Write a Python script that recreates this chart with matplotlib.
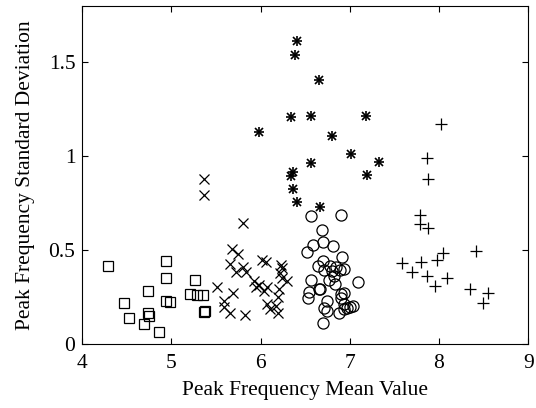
import matplotlib
matplotlib.use("Agg")
import matplotlib.pyplot as plt

plt.rcParams['font.family'] = ['Liberation Serif', 'DejaVu Serif']

# Squares
sq_x = [4.29, 4.47, 4.52, 4.69, 4.74, 4.74, 4.75, 4.86, 4.94, 4.94, 4.94, 4.98,
        5.26, 5.21, 5.29, 5.35, 5.36, 5.38]
sq_y = [0.417, 0.220, 0.137, 0.105, 0.282, 0.163, 0.149, 0.066, 0.442, 0.353, 0.226, 0.222,
        0.341, 0.266, 0.258, 0.258, 0.169, 0.176]

# Crosses (x)
cx_x = [5.37, 5.37, 5.80, 5.51, 5.68, 5.75, 5.66, 5.80, 5.72, 5.84, 5.69, 5.59, 5.59,
        5.66, 5.82, 5.92, 5.95, 5.98, 6.04, 6.07, 6.01, 6.06, 6.07, 6.10, 6.17, 6.19,
        6.20, 6.21, 6.23, 6.24, 6.22, 6.24, 6.30]
cx_y = [0.877, 0.794, 0.643, 0.305, 0.505, 0.479, 0.425, 0.412, 0.384, 0.384, 0.270, 0.231,
        0.196, 0.167, 0.153, 0.336, 0.302, 0.313, 0.284, 0.302, 0.447, 0.437, 0.211, 0.188,
        0.202, 0.167, 0.252, 0.291, 0.419, 0.405, 0.376, 0.350, 0.336]

# Asterisks
st_x = [6.41, 6.39, 6.65, 6.34, 6.56, 7.18, 5.98, 6.80, 7.01, 7.33, 6.56, 6.36, 6.34,
        6.36, 6.41, 6.67, 7.19]
st_y = [1.611, 1.540, 1.407, 1.208, 1.215, 1.211, 1.126, 1.108, 1.010, 0.966, 0.963,
        0.915, 0.892, 0.824, 0.758, 0.728, 0.900]

# Circles
ci_x = [6.56, 6.90, 6.69, 6.52, 6.59, 6.70, 6.81, 6.91, 6.64, 6.70, 6.78, 6.84, 6.80,
        6.89, 6.94, 6.71, 6.82, 6.77, 6.83, 6.56, 7.09, 6.65, 6.54, 6.66, 6.53, 6.90,
        6.93, 6.90, 6.74, 6.93, 6.71, 6.74, 6.88, 6.97, 7.00, 7.03, 6.94, 6.70]
ci_y = [0.682, 0.687, 0.607, 0.488, 0.524, 0.542, 0.522, 0.462, 0.417, 0.444, 0.417,
        0.408, 0.389, 0.394, 0.398, 0.391, 0.359, 0.341, 0.320, 0.341, 0.332, 0.291,
        0.279, 0.291, 0.243, 0.265, 0.270, 0.247, 0.226, 0.213, 0.190, 0.176, 0.163,
        0.190, 0.199, 0.202, 0.185, 0.114]

# Plus signs
pl_x = [8.02, 7.86, 7.88, 7.79, 7.79, 7.88, 7.59, 7.70, 7.80, 7.86, 7.95, 7.98, 8.05,
        8.09, 8.41, 8.35, 8.55, 8.49]
pl_y = [1.170, 0.989, 0.879, 0.684, 0.638, 0.616, 0.430, 0.385, 0.435, 0.364, 0.311,
        0.448, 0.483, 0.350, 0.495, 0.293, 0.273, 0.217]

x_ticks = [4, 5, 6, 7, 8, 9]
y_ticks = [0, 0.5, 1, 1.5]
y_tick_labels = ['0', '0.5', '1', '1.5']

fig = plt.figure(figsize=(5.36, 4.08), dpi=100)
ax = fig.add_axes([0.1535, 0.157, 0.832, 0.829])

lw = 0.9
ax.plot(sq_x, sq_y, 's', mfc='none', mec='black', ms=6.5, mew=lw)
ax.plot(cx_x, cx_y, 'x', color='black', ms=6.5, mew=lw)
ax.plot(st_x, st_y, '+', color='black', ms=7.5, mew=1.2)
ax.plot(st_x, st_y, 'x', color='black', ms=5.5, mew=1.2)
ax.plot(ci_x, ci_y, 'o', mfc='none', mec='black', ms=8, mew=lw)
ax.plot(pl_x, pl_y, '+', color='black', ms=8, mew=lw)

ax.set_xlim(4, 9)
ax.set_ylim(0, 1.8)
ax.set_xticks(x_ticks)
ax.set_xticklabels([str(t) for t in x_ticks])
ax.set_yticks(y_ticks)
ax.set_yticklabels(y_tick_labels)
ax.tick_params(direction='in', top=True, right=True, length=4, width=0.8,
               labelsize=15.5)
ax.tick_params(axis='x', pad=7)
ax.tick_params(axis='y', pad=5)
for s in ax.spines.values():
    s.set_linewidth(0.8)

ax.set_xlabel('Peak Frequency Mean Value', fontsize=15.5, labelpad=6)
ax.set_ylabel('Peak Frequency Standard Deviation', fontsize=15.5, labelpad=10)

fig.savefig('out.png', dpi=100)
